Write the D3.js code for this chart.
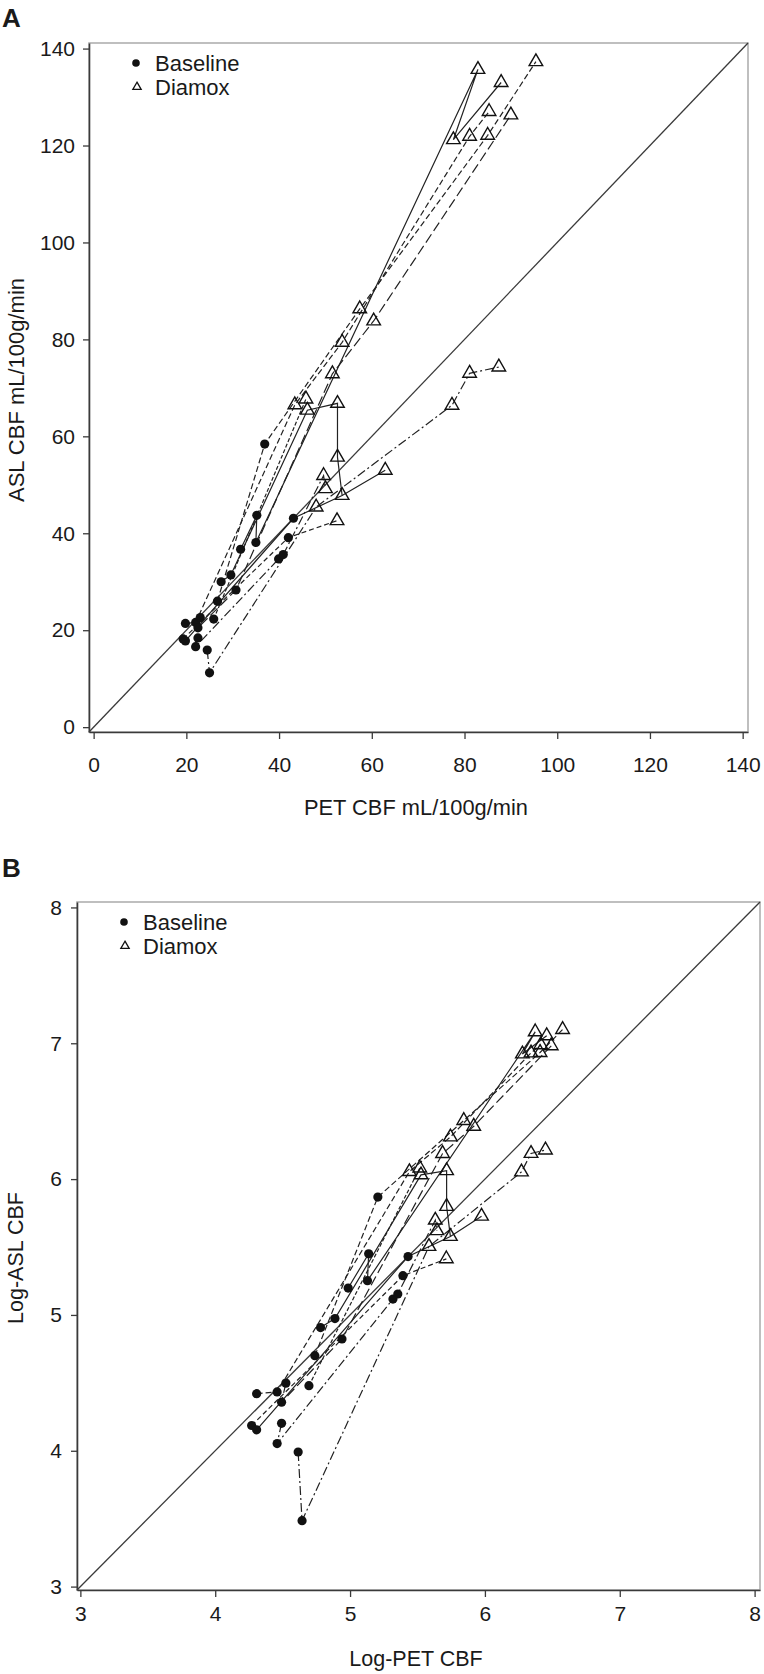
<!DOCTYPE html>
<html><head><meta charset="utf-8">
<script src="https://cdn.jsdelivr.net/npm/d3@7"></script>
<style>
body{margin:0;background:#fff}
svg{display:block}
text{font-family:"Liberation Sans",Arial,sans-serif;fill:#1a1a1a}
</style>
</head><body>
<svg id="c" width="764" height="1674"></svg>
<script>
// ---------- data (panel A: mL/100g/min) ----------
const baselinePET = [19.3,19.8,19.8,22.0,23.0,22.5,22.5,22.0,24.5,25.0,25.9,26.7,27.5,29.6,30.7,31.7,35.0,35.2,36.9,39.9,40.9,42.0,43.1];
const baselineASL = [18.2,17.8,21.4,21.6,22.6,20.5,18.4,16.6,15.9,11.2,22.3,26.0,30.0,31.4,28.3,36.7,38.1,43.7,58.4,34.7,35.6,39.1,43.1];
const diamoxPET = [82.9,95.4,87.9,85.3,90.0,77.6,81.1,85.0,57.4,60.4,53.6,51.5,43.4,45.8,46.1,52.6,52.6,53.6,52.5,62.9,49.6,50.0,48.0,77.3,81.1,87.4];
const diamoxASL = [135.7,137.3,133.0,127.0,126.3,121.2,121.9,122.1,86.3,83.8,79.4,72.9,66.5,67.7,65.4,66.8,55.7,47.8,42.6,53.0,51.9,49.2,45.4,66.4,73.0,74.3];
// ---------- data (panel B: log values) ----------
const logBaselinePET = [4.270,4.307,4.307,4.459,4.524,4.492,4.492,4.459,4.615,4.644,4.695,4.739,4.781,4.888,4.940,4.986,5.129,5.138,5.206,5.318,5.354,5.392,5.430];
const logBaselineASL = [4.186,4.154,4.420,4.433,4.498,4.358,4.202,4.053,3.991,3.485,4.479,4.700,4.907,4.973,4.823,5.198,5.252,5.450,5.868,5.117,5.154,5.289,5.430];
const logDiamoxPET = [6.373,6.576,6.458,6.414,6.492,6.278,6.342,6.409,5.843,5.917,5.744,5.686,5.440,5.517,5.526,5.716,5.716,5.744,5.714,5.975,5.632,5.644,5.585,6.271,6.342,6.449];
const logDiamoxASL = [7.084,7.101,7.055,6.989,6.981,6.921,6.929,6.932,6.431,6.389,6.310,6.188,6.055,6.081,6.031,6.062,5.799,5.578,5.413,5.727,5.698,5.620,5.504,6.053,6.189,6.214];
// ---------- connections (per subject, b = baseline index, d = diamox index, 1-based) ----------
const subjectPaths = [
  ["b9","b10","d23","d24","d25","d26"],
  ["b16","b18","b17","d1","d6","d3"],
  ["b12","b19","d9","d8","d2"],
  ["b3","b4","d13","d11","d7","d4"],
  ["b13","b14","d15","d16","d17","d18"],
  ["b2","b23","d18","d20"],
  ["b1","b22","d19"],
  ["b7","b8","b20","b21","d21","d22"],
  ["b5","b6","b15","d12","d10","d5"],
  ["b11","d14"]
];
const ticksA = [0,20,40,60,80,100,120,140];
const ticksB = [3,4,5,6,7,8];
const legendLabels = ["Baseline","Diamox"];

// ---------- drawing ----------
const svg = d3.select("#c");
const dashes = ["9,3,2,3", null, "6,3", "6,3", null, null, "5,3", "9,3,2,3", "10,4", "4,2"];
const FONT = '"Liberation Sans",Arial,sans-serif';

function panel(cfg) {
  const g = svg.append("g");
  const x = d3.scaleLinear().domain(cfg.dom).range([cfg.left, cfg.right]);
  const y = d3.scaleLinear().domain(cfg.dom).range([cfg.bottom, cfg.top]);

  g.append("text").attr("x", 2).attr("y", cfg.labelY).attr("font-size", 26)
    .attr("font-weight", "bold").text(cfg.label);

  g.append("rect").attr("x", cfg.left).attr("y", cfg.top)
    .attr("width", cfg.right - cfg.left).attr("height", cfg.bottom - cfg.top)
    .attr("fill", "none").attr("stroke", "#b0b0b0").attr("stroke-width", 1.6);

  const ax = g.append("g").attr("transform", `translate(0,${cfg.bottom})`)
    .call(d3.axisBottom(x).tickValues(cfg.ticks).tickFormat(d3.format("d"))
      .tickSize(7).tickSizeOuter(0).tickPadding(cfg.xpad));
  const ay = g.append("g").attr("transform", `translate(${cfg.left},0)`)
    .call(d3.axisLeft(y).tickValues(cfg.ticks).tickFormat(d3.format("d"))
      .tickSize(6).tickSizeOuter(0).tickPadding(cfg.ypad));
  [ax, ay].forEach(a => {
    a.select(".domain").attr("stroke", "#3a3a3a").attr("stroke-width", 1.6);
    a.selectAll(".tick line").attr("stroke", "#3a3a3a").attr("stroke-width", 1.3);
    a.selectAll(".tick text").attr("font-size", 21).attr("font-family", FONT).attr("fill", "#1a1a1a");
  });

  // identity line (corner to corner of the frame)
  g.append("line")
    .attr("x1", cfg.left).attr("y1", cfg.bottom)
    .attr("x2", cfg.right).attr("y2", cfg.top)
    .attr("stroke", "#3a3a3a").attr("stroke-width", 1.3);

  const pt = id => {
    const i = +id.slice(1) - 1;
    return id[0] === "b" ? [cfg.bx[i], cfg.by[i]] : [cfg.dx[i], cfg.dy[i]];
  };
  const line = d3.line().x(p => x(p[0])).y(p => y(p[1]));
  subjectPaths.forEach((ids, k) => {
    g.append("path").attr("d", line(ids.map(pt)))
      .attr("fill", "none").attr("stroke", "#222").attr("stroke-width", 1.2)
      .attr("stroke-dasharray", dashes[k]);
  });

  g.selectAll(".tri").data(cfg.dx.map((v, i) => [v, cfg.dy[i]])).join("path")
    .attr("d", d3.symbol(d3.symbolTriangle, 80))
    .attr("transform", d => `translate(${x(d[0])},${y(d[1])})`)
    .attr("fill", "none").attr("stroke", "#111").attr("stroke-width", 1.4);

  g.selectAll(".dot").data(cfg.bx.map((v, i) => [v, cfg.by[i]])).join("circle")
    .attr("cx", d => x(d[0])).attr("cy", d => y(d[1])).attr("r", 4.6)
    .attr("fill", "#111");

  // legend
  const lx = cfg.left + 47, ly = cfg.top + 20;
  g.append("circle").attr("cx", lx).attr("cy", ly).attr("r", 3.8).attr("fill", "#111");
  g.append("path").attr("d", d3.symbol(d3.symbolTriangle, 30))
    .attr("transform", `translate(${lx + 1},${ly + 24})`)
    .attr("fill", "none").attr("stroke", "#111").attr("stroke-width", 1.3);
  legendLabels.forEach((t, i) => {
    g.append("text").attr("x", lx + 19).attr("y", ly + 24 * i).attr("dy", "0.36em")
      .attr("font-size", 22).text(t);
  });

  // axis titles
  const xt = g.append("text").attr("x", 416).attr("y", cfg.xTitleY).attr("text-anchor", "middle")
    .attr("font-size", 21.5).text(cfg.xTitle);
  const yt = g.append("text").attr("transform", `translate(${cfg.yTitleX},${cfg.yTitleY}) rotate(-90)`)
    .attr("text-anchor", "middle").attr("font-size", 21.5).text(cfg.yTitle);
  if (cfg.titleLen) {
    xt.attr("textLength", cfg.titleLen).attr("lengthAdjust", "spacingAndGlyphs");
    yt.attr("textLength", cfg.titleLen).attr("lengthAdjust", "spacingAndGlyphs");
  }
}

panel({
  label: "A", labelY: 27,
  left: 89, right: 748, top: 43, bottom: 732, dom: [-1.0, 141.15],
  ticks: ticksA, xpad: 18, ypad: 8,
  bx: baselinePET, by: baselineASL, dx: diamoxPET, dy: diamoxASL,
  xTitle: "PET CBF mL/100g/min", xTitleY: 815, titleLen: 224,
  yTitle: "ASL CBF mL/100g/min", yTitleX: 24, yTitleY: 390
});
panel({
  label: "B", labelY: 877,
  left: 77, right: 760, top: 902, bottom: 1590, dom: [2.975, 8.04],
  ticks: ticksB, xpad: 9, ypad: 9,
  bx: logBaselinePET, by: logBaselineASL, dx: logDiamoxPET, dy: logDiamoxASL,
  xTitle: "Log-PET CBF", xTitleY: 1666,
  yTitle: "Log-ASL CBF", yTitleX: 23, yTitleY: 1258
});
</script>
</body></html>
